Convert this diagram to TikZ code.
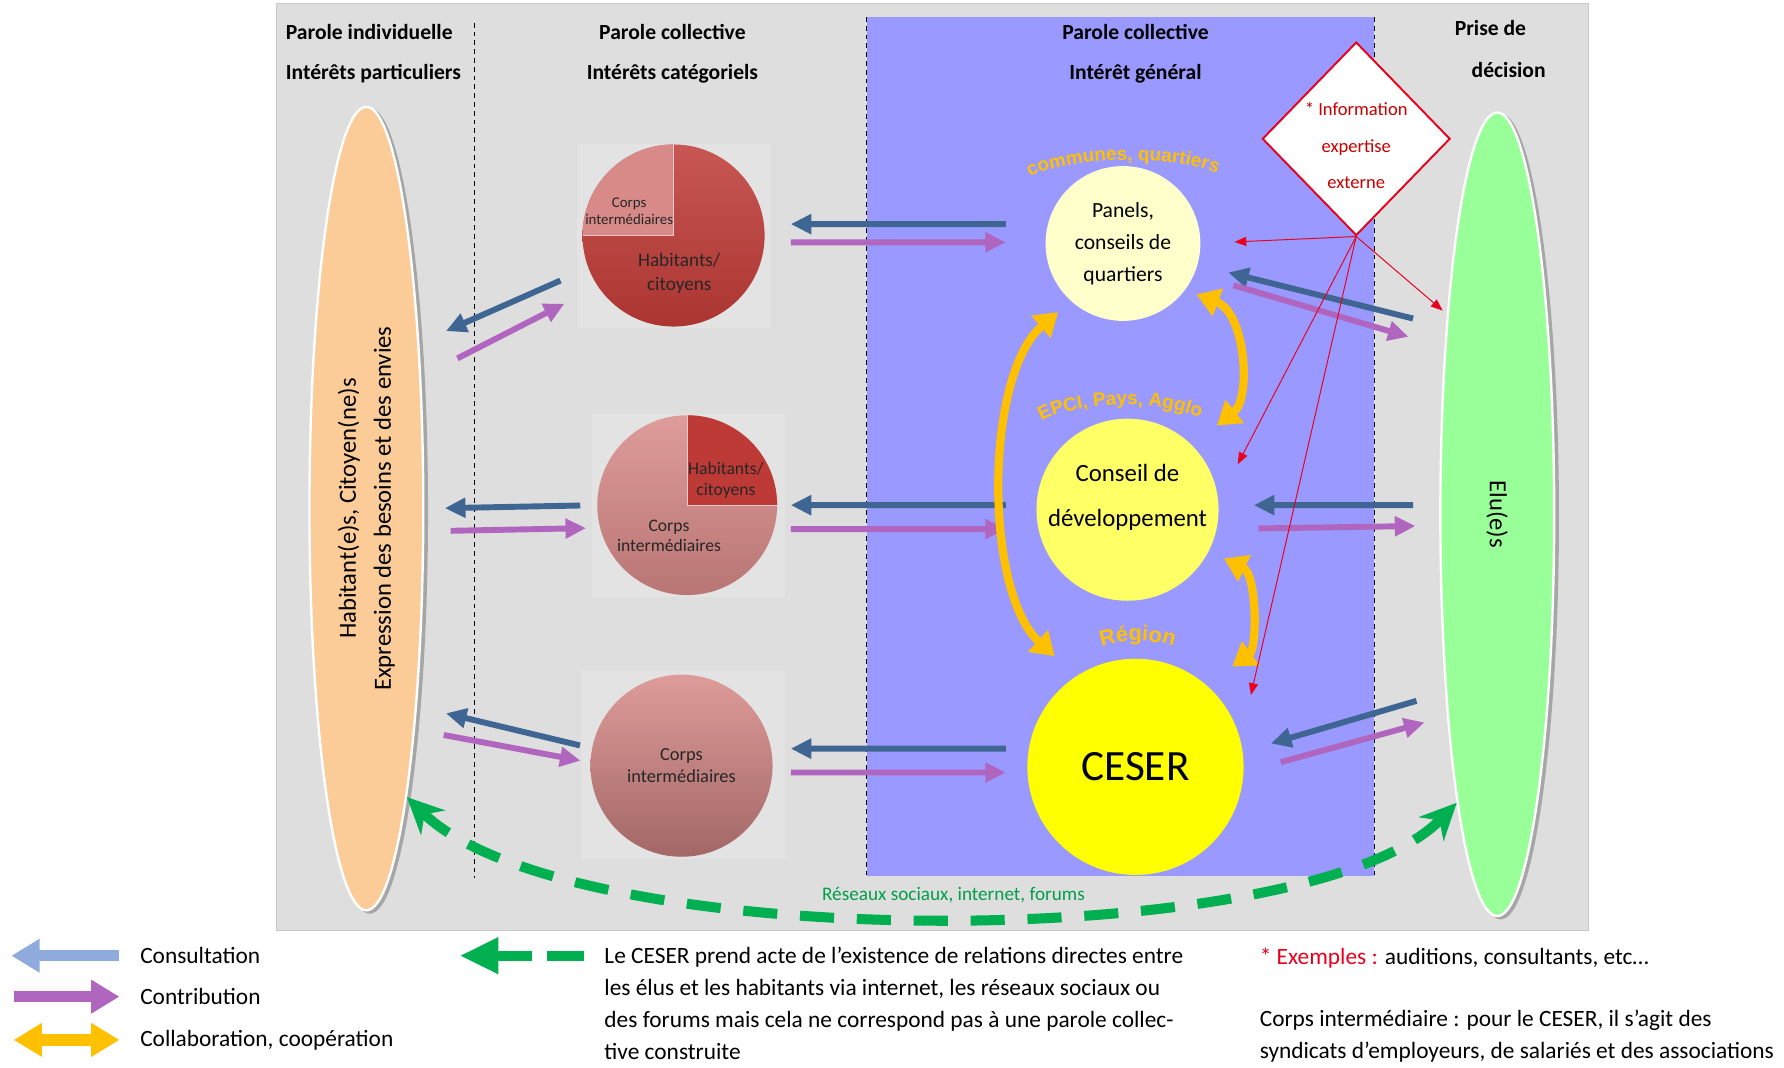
\documentclass[tikz,border=0pt]{standalone}
\usepackage{fontspec}
\setmainfont{Carlito}
\newfontfamily\arialfont{Liberation Sans}
\usepackage{graphicx}
\usepackage{tikz}
\usetikzlibrary{arrows.meta,shapes.geometric,decorations.text}

\definecolor{fond}{HTML}{DEDEDE}
\definecolor{bleufond}{HTML}{9999FF}
\definecolor{orangeell}{HTML}{FBCB98}
\definecolor{vertell}{HTML}{99FF99}
\definecolor{consbleu}{HTML}{3F6593}
\definecolor{consclair}{HTML}{8FAADC}
\definecolor{contribviolet}{HTML}{B065BE}
\definecolor{collaborange}{HTML}{FFC000}
\definecolor{reseauvert}{HTML}{00B050}
\definecolor{piefonce}{HTML}{BE3A36}
\definecolor{pieclair}{HTML}{D88A88}
\definecolor{panelsjaune}{HTML}{FFFFCC}
\definecolor{cdevjaune}{HTML}{FFFF66}
\definecolor{ceserjaune}{HTML}{FFFF00}
\definecolor{rouge}{HTML}{E8001C}
\definecolor{rougefonce}{HTML}{C80000}

\begin{document}
\begin{tikzpicture}[x=0.025cm, y=0.025cm,
    consult/.style={arrows={-Triangle[length=0.45cm,width=0.42cm]}, line width=0.13cm, draw=consbleu},
    contrib/.style={arrows={-Triangle[length=0.45cm,width=0.42cm]}, line width=0.13cm, draw=contribviolet},
    collab/.style={arrows={Triangle[length=0.5cm,width=0.62cm]-Triangle[length=0.5cm,width=0.62cm]},
                   line width=0.18cm, draw=collaborange},
    info/.style={arrows={-Triangle[length=2.6mm,width=2mm]}, line width=0.6pt, draw=rouge},
    reseau/.style={arrows={Stealth[length=0.8cm,width=0.75cm]-Stealth[length=0.8cm,width=0.75cm]},
                   line width=0.22cm, draw=reseauvert, dash pattern=on 0.75cm off 0.5cm},
    legcons/.style={arrows={-Triangle[length=0.62cm,width=0.7cm]}, line width=0.25cm, draw=consclair},
    legcontrib/.style={arrows={-Triangle[length=0.62cm,width=0.7cm]}, line width=0.25cm, draw=contribviolet},
    legcollab/.style={arrows={Triangle[length=0.62cm,width=0.7cm]-Triangle[length=0.62cm,width=0.7cm]},
                      line width=0.25cm, draw=collaborange},
    legreseau/.style={arrows={-Triangle[length=0.85cm,width=0.75cm]}, line width=0.22cm, draw=reseauvert,
                      dash pattern=on 0.8cm off 0.325cm on 2cm off 1cm},
    titre/.style={font=\fontsize{13.5}{24.8}\selectfont\bfseries, align=center, inner sep=0pt},
    ell/.style={ellipse, draw=white, line width=1.5pt, minimum width=2.5cm, minimum height=17.65cm,
                inner sep=0pt, font=\fontsize{15.4}{22}\selectfont},
    ombre/.style={fill=black!35},
    pie/.style={circle, minimum size=4cm, inner sep=0pt, outer sep=0pt},
    piet/.style={align=center, text=black!85, inner sep=0pt},
    bord/.style={draw=white!55!pieclair, line width=0.8pt},
    carre/.style={fill=white!15!fond},
    rond/.style={circle, inner sep=0pt, outer sep=0pt, align=center},
    pointille/.style={draw=black, line width=0.6pt, dash pattern=on 3pt off 2.5pt},
    courbe/.style={decorate, decoration={text along path, text align=center, text={#1}}},
    leg/.style={anchor=west, align=left, font=\fontsize{14.6}{20}\selectfont, inner sep=0pt},
  ]
  \useasboundingbox (0,0) rectangle (1568,-938);

  % fonds et colonnes
  \fill[fond, draw=black!22, line width=0.8pt] (243,-3) rectangle (1396,-818);
  \fill[bleufond] (762,-15) rectangle (1208,-770);
  \draw[pointille] (417,-20) -- (417,-772);
  \draw[pointille] (762,-15) -- (762,-770);
  \draw[pointille] (1208,-15) -- (1208,-770);
  \fill[carre] (507,-127) rectangle (678,-288);
  \fill[carre] (520,-364) rectangle (690,-525);
  \fill[carre] (511,-590) rectangle (690,-755);

  % titres
  \node[titre, align=left, anchor=west] (t1) at (251,-47) {Parole individuelle\\Intérêts particuliers};
  \node[titre] (t2) at (591,-47) {Parole collective\\Intérêts catégoriels};
  \node[titre] (t3) at (998,-47) {Parole collective\\Intérêt général};
  \node[titre, font=\fontsize{13.5}{26.5}\selectfont\bfseries] (t4) at (1326,-43) {Prise de\kern0.8cm\\décision};

  % ellipses
  \fill[ombre] (325,-449) ellipse [x radius=1.28cm, y radius=8.85cm];
  \fill[ombre] (1319,-454) ellipse [x radius=1.28cm, y radius=8.85cm];
  \node[ell, fill=orangeell] (hab) at (322,-447)
    {\rotatebox{90}{\begin{tabular}{@{}c@{}}Habitant(e)s, Citoyen(ne)s\\Expression des besoins et des envies\end{tabular}}};
  \node[ell, fill=vertell] (elu) at (1316,-452) {\rotatebox{-90}{Elu(e)s}};

  % camemberts
  \node[pie, top color=piefonce!85!white, bottom color=piefonce!90!black] (pieA) at (592,-207) {};
  \fill[pieclair] (pieA.center) -- (pieA.north) arc[start angle=90, end angle=180, radius=2cm] -- cycle;
  \draw[bord] (pieA.west) -- (pieA.center) -- (pieA.north);
  \node[piet, font=\fontsize{9.3}{10.6}\selectfont] (pieAcorps) at (553,-186) {Corps\\intermédiaires};
  \node[piet, font=\fontsize{12}{15}\selectfont] (pieAhab) at (597,-240) {Habitants/\\citoyens};

  \node[pie, minimum size=3.95cm, top color=pieclair!85!white, bottom color=pieclair!85!black] (pieB) at (604,-444) {};
  \fill[piefonce] (pieB.center) -- (pieB.east) arc[start angle=0, end angle=90, radius=1.975cm] -- cycle;
  \draw[bord] (pieB.east) -- (pieB.center) -- (pieB.north);
  \node[piet, font=\fontsize{11}{13.5}\selectfont] (pieBhab) at (638,-422) {Habitants/\\citoyens};
  \node[piet, font=\fontsize{11}{12.8}\selectfont] (pieBcorps) at (588,-471) {Corps\\intermédiaires};

  \node[pie, piet, top color=pieclair!85!white, bottom color=pieclair!75!black,
        font=\fontsize{11.5}{14}\selectfont] (pieC) at (599,-673) {Corps\\intermédiaires};

  % instances
  \node[rond, fill=panelsjaune, minimum size=3.4cm, font=\fontsize{13.5}{20}\selectfont] (panels) at (987,-214)
    {Panels,\\conseils de\\quartiers};
  \node[rond, fill=cdevjaune, minimum size=4cm] (cdev) at (991,-448) {};
  \node[align=center, font=\fontsize{15.5}{28}\selectfont] (cdevtxt) at (991,-437) {Conseil de\\développement};
  \node[rond, fill=ceserjaune, minimum size=4.75cm, font=\fontsize{27}{30}\selectfont] (ceser) at (998,-674) {CESER};

  \path[courbe={|\arialfont\bfseries\fontsize{11.8}{13}\selectfont\color{collaborange}|communes, quartiers}]
    (903,-157) .. controls (935,-137) and (1037,-135) .. (1072,-154);
  \path[courbe={|\arialfont\bfseries\fontsize{11.8}{13}\selectfont\color{collaborange}|EPCI, Pays, Agglo}]
    (912,-372) .. controls (945,-352) and (1022,-350) .. (1058,-369);
  \path[courbe={|\arialfont\bfseries\fontsize{13.5}{15}\selectfont\color{collaborange}|Région}]
    (958,-573) .. controls (982,-560) and (1018,-560) .. (1042,-573);

  % expertise externe
  \node[diamond, draw=rouge, line width=1.2pt, fill=white, minimum width=4.125cm, minimum height=4.25cm,
        inner sep=0pt] (expert) at (1192,-122) {};
  \node[align=center, text=rougefonce, font=\fontsize{11.6}{22.7}\selectfont] (experttxt) at (1192,-128)
    {* Information\\expertise\\externe};

  % bouts libres
  \coordinate (h1) at (392,-291);
  \coordinate (h2) at (402,-315);
  \coordinate (h5) at (392,-627);
  \coordinate (h6) at (390,-646);
  \coordinate (e1) at (1242,-280);
  \coordinate (e2) at (1238,-296);
  \coordinate (e3) at (1245,-616);
  \coordinate (e4) at (1252,-635);
  \coordinate (r2) at (1268,-273);

  % consultation / contribution
  \draw[consult, shorten <=0.675cm] (pieA.201) -- (h1);
  \draw[contrib, shorten >=0.83cm] (h2) -- (pieA.214);
  \draw[consult, shorten <=0.375cm, shorten >=0.45cm] (pieB.west) -- (hab.east);
  \draw[contrib, shorten <=0.575cm, shorten >=0.25cm] ([yshift=-0.5cm]hab.east) -- ([yshift=-0.5cm]pieB.west);
  \draw[consult, shorten <=0.275cm] (pieC.169) -- (h5);
  \draw[contrib, shorten >=0.225cm] (h6) -- (pieC.178);

  \draw[consult, shorten <=0.875cm, shorten >=0.575cm] ([yshift=0.425cm]panels.west) -- ([yshift=0.25cm]pieA.east);
  \draw[contrib, shorten <=0.575cm, shorten >=0.875cm] ([yshift=-0.15cm]pieA.east) -- ([yshift=0.025cm]panels.west);
  \draw[consult, shorten <=0.675cm, shorten >=0.3cm] ([yshift=0.1cm]cdev.west) -- (pieB.east);
  \draw[contrib, shorten <=0.3cm, shorten >=0.675cm] ([yshift=-0.525cm]pieB.east) -- ([yshift=-0.425cm]cdev.west);
  \draw[consult, shorten <=0.475cm, shorten >=0.4cm] ([yshift=0.4cm]ceser.west) -- ([yshift=0.375cm]pieC.east);
  \draw[contrib, shorten <=0.4cm, shorten >=0.475cm] ([yshift=-0.15cm]pieC.east) -- ([yshift=-0.125cm]ceser.west);

  \draw[consult, shorten >=0.7cm] (e1) -- (panels.-16);
  \draw[contrib, shorten <=0.9cm] (panels.-23) -- (e2);
  \draw[consult, shorten <=0.575cm, shorten >=0.775cm] ([yshift=0.2cm]elu.west) -- ([yshift=0.1cm]cdev.east);
  \draw[contrib, shorten <=0.875cm, shorten >=0.525cm] ([yshift=-0.425cm]cdev.east) -- ([yshift=-0.25cm]elu.west);
  \draw[consult, shorten >=0.65cm] (e3) -- (ceser.8);
  \draw[contrib, shorten <=0.85cm] (ceser.-3) -- (e4);

  % collaboration
  \draw[collab, shorten <=0.375cm, shorten >=0.65cm] (panels.228) .. controls (865,-330) and (865,-520) .. (ceser.123);
  \draw[collab, shorten <=0.275cm, shorten >=0.7cm] (panels.-37) .. controls (1095,-275) and (1100,-350) .. (cdev.45);
  \draw[collab, shorten <=0.375cm, shorten >=0.7cm] (cdev.-27) .. controls (1105,-505) and (1105,-570) .. (ceser.49);

  % information
  \draw[info, shorten >=0.75cm] (expert.south) -- (panels.east);
  \draw[info] (expert.south) -- (r2);
  \draw[info, shorten >=0.93cm] (expert.south) -- (cdev.5);
  \draw[info, shorten >=1.03cm] (expert.south) -- (ceser.14);

  % reseaux
  \draw[reseau] (elu.-98) .. controls (1150,-840) and (500,-840) .. (hab.-82);
  \node[text=reseauvert!90!black, font=\fontsize{12}{14}\selectfont] (resx) at (838,-787)
    {Réseaux sociaux, internet, forums};

  % legende
  \coordinate (lg1a) at (105,-840);
  \coordinate (lg1b) at (10,-840);
  \coordinate (lg2a) at (12,-876);
  \coordinate (lg2b) at (105,-876);
  \coordinate (lg3a) at (12,-914);
  \coordinate (lg3b) at (105,-914);
  \coordinate (lg4a) at (513,-840);
  \coordinate (lg4b) at (404,-840);
  \draw[legcons] (lg1a) -- (lg1b);
  \draw[legcontrib] (lg2a) -- (lg2b);
  \draw[legcollab] (lg3a) -- (lg3b);
  \draw[legreseau] (lg4a) -- (lg4b);
  \node[leg] (lcons) at (123,-840) {Consultation};
  \node[leg] (lcontrib) at (123,-876) {Contribution};
  \node[leg] (lcollab) at (123,-914) {Collaboration, coopération};
  \node[leg] (lreseau) at (531,-882)
    {Le CESER prend acte de l’existence de relations directes entre\\
     les élus et les habitants via internet, les réseaux sociaux ou\\
     des forums mais cela ne correspond pas à une parole collec-\\
     tive construite};
  \node[leg] (lexpert) at (1107,-842) {\textcolor{rouge}{* Exemples :} auditions, consultants, etc…};
  \node[leg] (lcorps) at (1107,-911)
    {Corps intermédiaire : pour le CESER, il s’agit des\\
     syndicats d’employeurs, de salariés et des associations};
\end{tikzpicture}
\end{document}
